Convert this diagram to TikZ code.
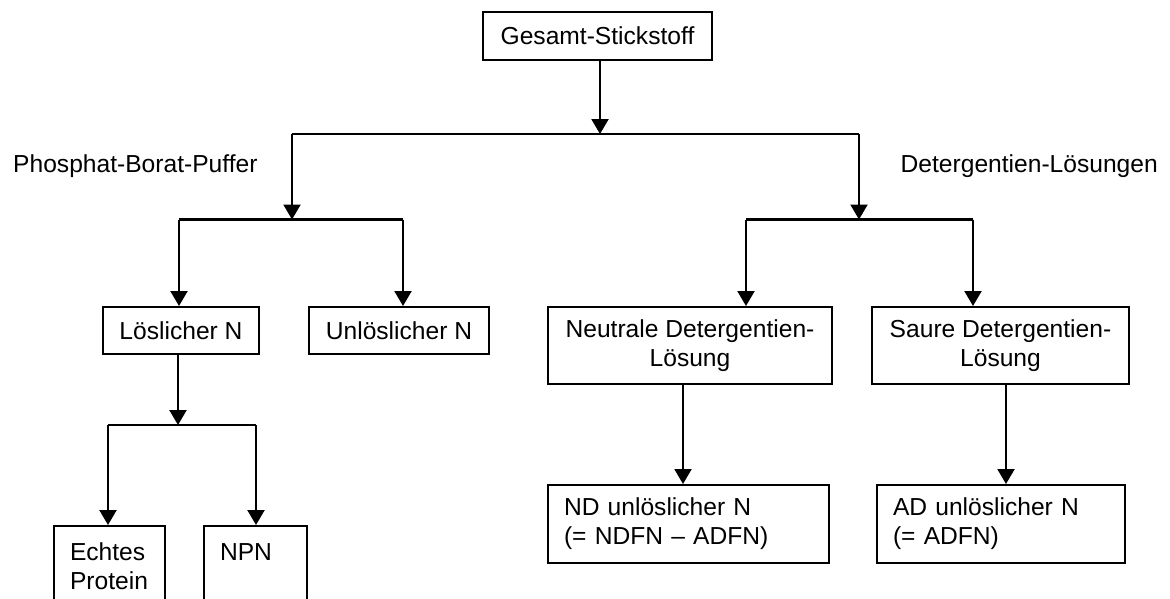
\documentclass[tikz,border=0pt]{standalone}
\usepackage{fontspec}
\setmainfont{Liberation Sans}
\usetikzlibrary{arrows.meta}

\begin{document}
\begin{tikzpicture}[x=1pt, y=-1pt,
  every node/.style={font=\fontsize{24.6}{29}\selectfont},
  box/.style={draw, line width=2pt, inner sep=0pt, align=center},
  lbox/.style={draw, line width=2pt, inner xsep=16pt, inner ysep=0pt, align=left},
  lbl/.style={inner sep=0pt},
  arr/.style={line width=2.2pt, -{Triangle[width=17pt, length=15pt]}},
  wire/.style={line width=2.2pt}]

\useasboundingbox (0,0) rectangle (1170,598);
\clip (0,0) rectangle (1170,598);

% boxes
\node[box, minimum width=229pt, minimum height=48pt] (gs) at (597.5,36) {Gesamt-Stickstoff};
\node[box, minimum width=156pt, minimum height=47pt] (loes) at (181,330.5) {Löslicher N};
\node[box, minimum width=180pt, minimum height=47pt] (unl) at (399,330.5) {Unlöslicher N};
\node[box, minimum width=284pt, minimum height=77pt] (neu) at (690,345.5) {Neutrale Detergentien-\\Lösung};
\node[box, minimum width=257pt, minimum height=77pt] (sau) at (1000.5,345.5) {Saure Detergentien-\\Lösung};
\node[lbox, text width=249pt, minimum height=78pt] (nd) at (688.5,524) {ND unlöslicher N\\(= NDFN – ADFN)};
\node[lbox, text width=216pt, minimum height=78pt] (ad) at (1001,524) {AD unlöslicher N\\(= ADFN)};
\node[lbox, text width=79pt, minimum height=81pt] (echt) at (109.5,566.5) {Echtes\\Protein};
\node[lbox, text width=71pt, minimum height=81pt] (npn) at (255.5,566.5) {NPN\\~};

% branch labels
\node[lbl, anchor=base west] (pbp) at (13,172.7) {Phosphat-Borat-Puffer};
\node[lbl, anchor=base east] (det) at (1158,172.7) {Detergentien-Lösungen};

% junction points
\coordinate (a0) at (600,134);
\coordinate (aL) at (292,134);
\coordinate (aR) at (859,134);
\coordinate (bL) at (179,219.5);
\coordinate (bM) at (292,219.5);
\coordinate (bR) at (403,219.5);
\coordinate (cL) at (746,219.5);
\coordinate (cM) at (859,219.5);
\coordinate (cR) at (973,219.5);
\coordinate (dL) at (108,425);
\coordinate (dM) at (178,425);
\coordinate (dR) at (256,425);
\coordinate (eN) at (683,0);
\coordinate (eA) at (1006,0);

% first split
\draw[arr] (gs.south -| a0) -- (a0);
\draw[wire] (aL) -- (aR);
\draw[arr] (aL) -- (bM);
\draw[arr] (aR) -- (cM);

% buffer branch
\draw[wire] (bL) -- (bR);
\draw[arr] (bL) -- (bL |- loes.north);
\draw[arr] (bR) -- (bR |- unl.north);
\draw[arr] (loes.south -| dM) -- (dM);
\draw[wire] (dL) -- (dR);
\draw[arr] (dL) -- (dL |- echt.north);
\draw[arr] (dR) -- (dR |- npn.north);

% detergent branch
\draw[wire] (cL) -- (cR);
\draw[arr] (cL) -- (cL |- neu.north);
\draw[arr] (cR) -- (cR |- sau.north);
\draw[arr] (neu.south -| eN) -- (nd.north -| eN);
\draw[arr] (sau.south -| eA) -- (ad.north -| eA);

\end{tikzpicture}
\end{document}
